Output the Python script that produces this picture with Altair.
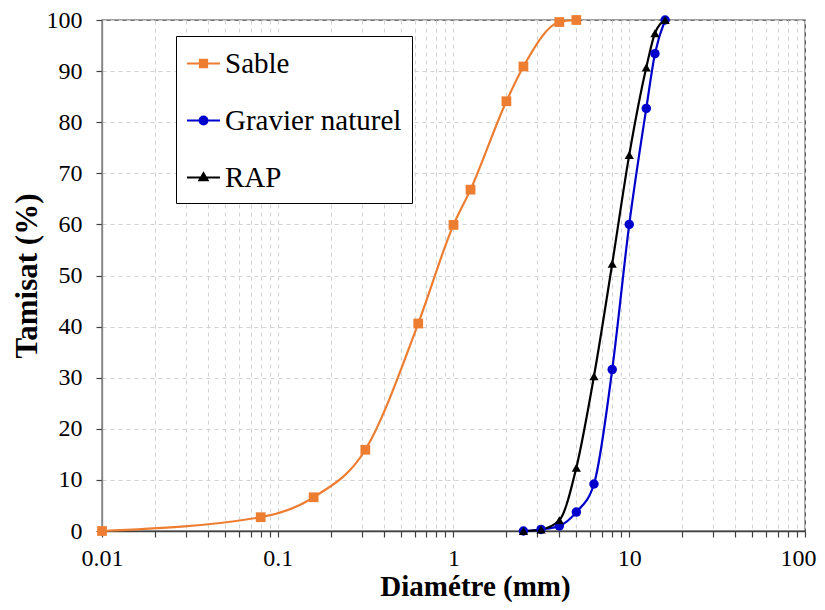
import altair as alt
import pandas as pd

# ---- data ----
series = ["Sable", "Gravier naturel", "RAP"]
colors = ["#ED7D31", "#0000CC", "#000000"]

sable_d = [0.01, 0.08, 0.16, 0.315, 0.63, 1.0, 1.25, 2.0, 2.5, 4.0, 5.0]
sable_p = [0.0, 2.7, 6.6, 15.9, 40.6, 59.9, 66.8, 84.1, 90.9, 99.6, 100.0]

gravier_d = [2.5, 3.15, 4.0, 5.0, 6.3, 8.0, 10.0, 12.5, 14.0, 16.0]
gravier_p = [0.0, 0.3, 1.0, 3.7, 9.2, 31.6, 60.0, 82.7, 93.4, 100.0]

rap_d = [2.5, 3.15, 4.0, 5.0, 6.3, 8.0, 10.0, 12.5, 14.0, 16.0]
rap_p = [0.0, 0.3, 2.1, 12.4, 30.3, 52.3, 73.6, 90.7, 97.4, 100.0]

x_ticks = [k * 10.0 ** e for e in range(-2, 2) for k in range(1, 10)] + [100.0]
y_ticks = list(range(0, 101, 10))

rows = []
for name, ds, ps in [(series[0], sable_d, sable_p),
                     (series[1], gravier_d, gravier_p),
                     (series[2], rap_d, rap_p)]:
    for i, (d, p) in enumerate(zip(ds, ps)):
        rows.append({"serie": name, "d": d, "p": p, "order": i})
df = pd.DataFrame(rows)

FONT = "Liberation Serif"

x_enc = alt.X(
    "d:Q",
    scale=alt.Scale(type="log", domain=[0.01, 100]),
    axis=alt.Axis(
        values=x_ticks,
        labelExpr="abs(log(datum.value)/LN10 - round(log(datum.value)/LN10)) < 1e-6 ? format(datum.value, '') : ''",
        labelOffset={"condition": {"test": "datum.value >= 99", "value": -7}, "value": 0},
        title="Diamétre (mm)",
        grid=True, gridDash=[4, 4], gridColor="#d2d2d2", gridWidth=1,
        domainColor="#404040", domainWidth=1.3,
        tickColor="#404040", tickSize=6, tickWidth=1.2,
        labelFont=FONT, labelFontSize=24, labelColor="#000000", labelPadding=9,
        labelFlush=False,
        titleFont=FONT, titleFontSize=29, titleFontWeight="bold", titleColor="#000000",
        titleX=373, titleY=64, titleBaseline="alphabetic", titleAnchor="middle",
    ),
)
y_enc = alt.Y(
    "p:Q",
    scale=alt.Scale(domain=[0, 100], nice=False),
    axis=alt.Axis(
        values=y_ticks,
        title="Tamisat (%)",
        grid=True, gridDash=[4, 4], gridColor="#d2d2d2", gridWidth=1,
        domainColor="#808080", domainWidth=1.3,
        tickColor="#404040", tickSize=6, tickWidth=1.2,
        labelFont=FONT, labelFontSize=24, labelColor="#000000", labelPadding=14,
        titleFont=FONT, titleFontSize=31, titleFontWeight="bold", titleColor="#000000",
        titleX=-75, titleBaseline="middle",
    ),
)

color_scale = alt.Scale(domain=series, range=colors)

lines = alt.Chart(df).mark_line(strokeWidth=2.2, interpolate="monotone").encode(
    x=x_enc, y=y_enc,
    color=alt.Color("serie:N", scale=color_scale, legend=None),
    detail="serie:N",
    order="order:Q",
)

points = alt.Chart(df).mark_point(filled=True, opacity=1).encode(
    x="d:Q", y="p:Q",
    color=alt.Color("serie:N", scale=color_scale, legend=None),
    shape=alt.Shape("serie:N", scale=alt.Scale(domain=series, range=["square", "circle", "triangle-up"]), legend=None),
    size=alt.Size("serie:N", scale=alt.Scale(domain=series, range=[95, 85, 70]), legend=None),
)

legend_paths = [
    "M-1,0H1M-0.22,-0.22H0.22V0.22H-0.22Z",
    "M-0.24,0A0.24,0.24 0 1,0 0.24,0A0.24,0.24 0 1,0 -0.24,0Z M-1,0H1",
    "M-1,0H1M0,-0.26L0.25,0.17H-0.25Z",
]

def make_legend():
    return alt.Legend(
        orient="none", legendX=74, legendY=16, title=None,
        padding=10, strokeColor="#000000", fillColor="#ffffff",
        symbolSize=1089, symbolStrokeWidth=2,
        labelFont=FONT, labelFontSize=29, labelColor="#000000",
        labelOffset=4, rowPadding=24, labelLimit=400,
    )

legend_layer = alt.Chart(df).transform_filter("false").mark_point(opacity=1, strokeWidth=2).encode(
    x="d:Q", y="p:Q",
    fill=alt.Fill("serie:N", scale=alt.Scale(domain=series, range=colors), legend=make_legend()),
    stroke=alt.Stroke("serie:N", scale=alt.Scale(domain=series, range=colors), legend=make_legend()),
    shape=alt.Shape("serie:N", scale=alt.Scale(domain=series, range=legend_paths), legend=make_legend()),
)

chart = alt.layer(lines, points, legend_layer).resolve_scale(
    shape="independent", size="independent", fill="independent", stroke="independent"
).properties(
    width=703, height=511,
    autosize=alt.AutoSizeParams(type="none"),
    padding={"left": 94, "top": 12, "right": 12, "bottom": 71},
    background="#ffffff",
).configure_view(stroke="#404040", strokeWidth=1.3)

chart.save("out.html", embed_options={"renderer": "svg", "actions": False})
